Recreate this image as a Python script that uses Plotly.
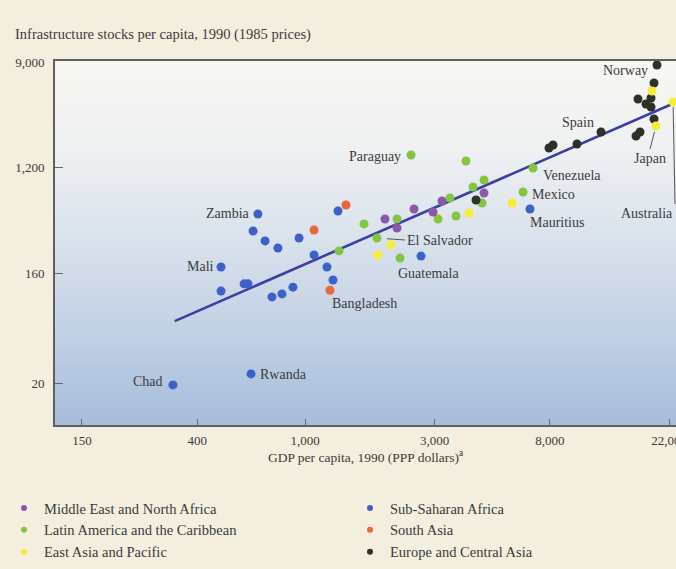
import numpy as np
import plotly.graph_objects as go

# GDP per capita, 1990 (PPP dollars) and infrastructure stocks per capita,
# 1990 (1985 prices), one set of arrays per region.
ssa_gdp = [669, 642, 711, 793, 949, 489, 489, 595, 615, 754, 821, 901, 631, 325,
           1321, 1078, 1203, 1266, 2675, 6752]
ssa_inf = [499, 361, 299, 261, 316, 182, 115, 132, 132, 103, 109, 124, 23.8, 19.3,
           528, 229, 182, 142, 224, 549]
ssa_names = ["Zambia", "", "", "", "", "Mali", "", "", "", "", "", "", "Rwanda", "Chad",
             "", "", "", "", "", "Mauritius"]

sa_gdp = [1414, 1078, 1234]
sa_inf = [592, 368, 117]
sa_names = ["", "", "Bangladesh"]

lac_gdp = [2457, 3920, 6927, 4568, 4161, 4492, 6365, 3421, 3090, 3601, 2182, 1648,
           1840, 1333, 2238]
lac_inf = [1533, 1368, 1197, 953, 834, 615, 758, 677, 454, 480, 454, 413,
           316, 247, 216]
lac_names = ["Paraguay", "", "Venezuela", "", "", "", "Mexico", "", "", "", "", "",
             "El Salvador", "", "Guatemala"]

mena_gdp = [1970, 2182, 2520, 2962, 3197, 4568]
mena_inf = [454, 382, 549, 518, 639, 744]
mena_names = ["", "", "", "", "", ""]

eap_gdp = [2073, 1856, 4022, 5797, 19041, 19697, 22763]
eap_inf = [277, 229, 508, 615, 5182, 2663, 4203]
eap_names = ["", "", "", "", "", "Japan", "Australia"]

eca_gdp = [4268, 8210, 7935, 10067, 12344, 16617, 17194, 16904, 18092, 18880, 18880,
           19364, 19865, 19364]
eca_inf = [651, 1855, 1752, 1890, 2375, 2200, 2375, 4450, 4046, 4536, 3822,
           6034, 8500, 3042]
eca_names = ["", "", "", "", "Spain", "", "", "", "", "", "", "", "Norway", ""]

# Fitted regression line (end points)
fit_gdp = [330, 22600]
fit_inf = [65, 4050]

x_tickvals = [150, 400, 1000, 3000, 8000, 22000]
x_ticktext = ["150", "400", "1,000", "3,000", "8,000", "22,000"]
y_tickvals = [20, 160, 1200, 9000]
y_ticktext = ["20", "160", "1,200", "9,000"]

SERIF = "Liberation Serif"
TEXT = "#3b3b3b"
PAPER = "#f3eedd"

regions = [
    # name, gdp, infra, labels, colour, legend column
    ("Sub-Saharan Africa", ssa_gdp, ssa_inf, ssa_names, "#3d60c9", "legend2"),
    ("South Asia", sa_gdp, sa_inf, sa_names, "#e8683b", "legend2"),
    ("Latin America and the Caribbean", lac_gdp, lac_inf, lac_names, "#85c343", "legend"),
    ("Middle East and North Africa", mena_gdp, mena_inf, mena_names, "#8a5aa9", "legend"),
    ("Europe and Central Asia", eca_gdp, eca_inf, eca_names, "#2c3229", "legend2"),
    ("East Asia and Pacific", eap_gdp, eap_inf, eap_names, "#f5ee35", "legend"),
]
legend_order = {
    "legend": ["Middle East and North Africa", "Latin America and the Caribbean",
               "East Asia and Pacific"],
    "legend2": ["Sub-Saharan Africa", "South Asia", "Europe and Central Asia"],
}

fig = go.Figure()

# soft white-to-blue wash inside the plotting frame
stops = [(0.0, (248, 247, 242)), (0.25, (238, 240, 242)), (0.5, (216, 225, 236)),
         (0.75, (193, 208, 228)), (1.0, (166, 189, 219))]


def wash(t):
    for (t0, c0), (t1, c1) in zip(stops[:-1], stops[1:]):
        if t <= t1:
            f = (t - t0) / (t1 - t0)
            return "rgb(%d,%d,%d)" % tuple(round(a + (b - a) * f) for a, b in zip(c0, c1))
    return "rgb(%d,%d,%d)" % stops[-1][1]


n_bands = 80
for i in range(n_bands):
    top = 1 - i / n_bands
    bot = 1 - (i + 1) / n_bands
    fig.add_shape(type="rect", xref="x domain", yref="y domain", x0=0, x1=1,
                  y0=max(bot - 0.002, 0), y1=top, layer="below",
                  line=dict(width=0), fillcolor=wash((i + 0.5) / n_bands))

fig.add_trace(go.Scatter(x=fit_gdp, y=fit_inf, mode="lines", showlegend=False,
                         line=dict(color="#3c3fa3", width=2.6), hoverinfo="skip"))

colour_of = {}
for name, gx, gy, labels, colour, leg in regions:
    colour_of[name] = colour
    fig.add_trace(go.Scatter(x=gx, y=gy, mode="markers", name=name, showlegend=False,
                             text=labels, marker=dict(size=9, color=colour,
                                                      line=dict(width=0))))

# legend entries with small keys, two columns
for leg, names in legend_order.items():
    for name in names:
        fig.add_trace(go.Scatter(x=[None], y=[None], mode="markers", name=name,
                                 legend=leg, marker=dict(size=6, color=colour_of[name])))

label_style = {
    "Zambia": dict(xanchor="right", xshift=-6, yshift=0),
    "Mali": dict(xanchor="right", xshift=-5, yshift=0),
    "Chad": dict(xanchor="right", xshift=-8, yshift=3),
    "Rwanda": dict(xanchor="left", xshift=7, yshift=-1),
    "Mauritius": dict(xanchor="left", xshift=-2, yshift=-14),
    "Bangladesh": dict(xanchor="left", xshift=0, yshift=-13),
    "Paraguay": dict(xanchor="right", xshift=-8, yshift=-1),
    "Venezuela": dict(xanchor="left", xshift=8, yshift=-7),
    "Mexico": dict(xanchor="left", xshift=7, yshift=-2),
    "Guatemala": dict(xanchor="left", xshift=-4, yshift=-16),
    "Spain": dict(xanchor="right", xshift=-5, yshift=10),
    "Norway": dict(xanchor="right", xshift=-7, yshift=-5),
}
arrow_style = {
    "El Salvador": dict(ax=28, ay=2, xanchor="left", yanchor="middle", standoff=10),
    "Japan": dict(ax=-6, ay=23, xanchor="center", yanchor="top", standoff=6),
    "Australia": dict(ax=2, ay=102, xanchor="right", yanchor="top", standoff=5),
}

for name, gx, gy, labels, colour, leg in regions:
    for gdp, inf, lab in zip(gx, gy, labels):
        if not lab:
            continue
        common = dict(x=np.log10(gdp), y=np.log10(inf), xref="x", yref="y", text=lab,
                      font=dict(family=SERIF, size=14, color=TEXT))
        if lab in arrow_style:
            st = arrow_style[lab]
            fig.add_annotation(**common, showarrow=True, arrowhead=0, arrowwidth=1,
                               arrowcolor="#555555", axref="pixel", ayref="pixel", **st)
        else:
            fig.add_annotation(**common, showarrow=False, yanchor="middle",
                               **label_style[lab])

axis_font = dict(family=SERIF, size=13, color=TEXT)
fig.update_xaxes(type="log", range=[2.0767, 4.3682], tickvals=x_tickvals,
                 ticktext=x_ticktext, ticks="inside", ticklen=6, tickwidth=1.2,
                 tickcolor="#666666", showgrid=False, zeroline=False, showline=True,
                 linecolor="#5f5f5f", linewidth=2, mirror=True, tickfont=axis_font,
                 ticklabelstandoff=2, ticklabeloverflow="allow", automargin=False,
                 title=dict(text="GDP per capita, 1990 (PPP dollars)<sup>a</sup>",
                            font=dict(family=SERIF, size=13.5, color=TEXT), standoff=6))
fig.update_yaxes(type="log", range=[0.9542, 3.9625], tickvals=y_tickvals,
                 ticktext=y_ticktext, ticks="inside", ticklen=8, tickwidth=1.2,
                 tickcolor="#666666", showgrid=False, zeroline=False, showline=True,
                 linecolor="#5f5f5f", linewidth=2, mirror=False, tickfont=axis_font,
                 ticklabelstandoff=6, automargin=False)

legend_common = dict(orientation="v", xref="container", yref="container",
                     yanchor="top", xanchor="left", bgcolor="rgba(0,0,0,0)",
                     font=dict(family=SERIF, size=14.5, color=TEXT),
                     tracegroupgap=0, itemclick=False)

fig.update_layout(
    width=676, height=569,
    margin=dict(l=55, r=0, t=61, b=144, autoexpand=False),
    paper_bgcolor=PAPER, plot_bgcolor="#f0f2f2",
    title=dict(text="Infrastructure stocks per capita, 1990 (1985 prices)",
               x=15 / 676, xanchor="left", xref="container",
               y=1 - 34 / 569, yanchor="middle", yref="container",
               font=dict(family=SERIF, size=14.5, color=TEXT)),
    legend=dict(x=4 / 676, y=1 - 492 / 569, **legend_common),
    legend2=dict(x=350 / 676, y=1 - 492 / 569, **legend_common),
    showlegend=True,
)

fig.write_html("out.html")
